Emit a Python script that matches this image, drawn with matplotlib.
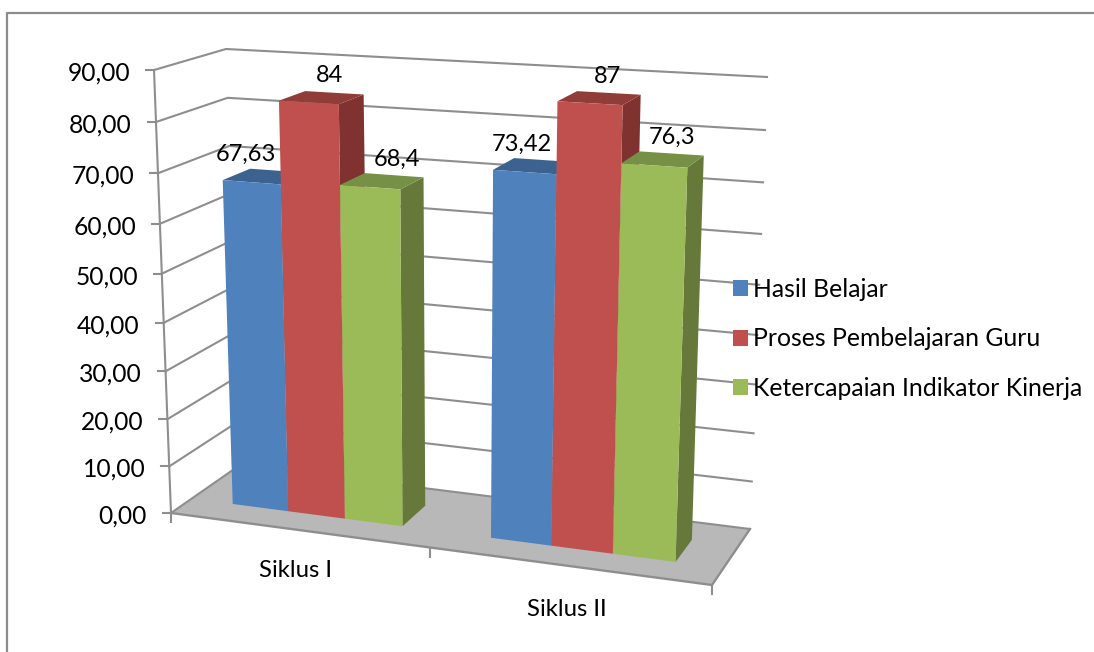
import matplotlib
matplotlib.use("Agg")
import matplotlib.pyplot as plt
import numpy as np
from matplotlib.patches import Polygon, Patch

# ---- data ----
categories = ["Siklus I", "Siklus II"]
series_names = ["Hasil Belajar", "Proses Pembelajaran Guru", "Ketercapaian Indikator Kinerja"]
hasil_belajar = [67.63, 73.42]
proses_guru = [84, 87]
indikator_kinerja = [68.4, 76.3]
value_labels = [["67,63", "73,42"], ["84", "87"], ["68,4", "76,3"]]
y_ticks = [0, 10, 20, 30, 40, 50, 60, 70, 80, 90]

# ---- style ----
FONT = "Lato"
GRID = "#8e8e8e"
FLOOR = "#b8b8b8"
faces = [("#4f81bd", "#3c6390", "#3a5f8b"),
         ("#c0504d", "#903c39", "#7f3230"),
         ("#9bbb59", "#769046", "#66793a")]
label_dx = [[-19, -13], [8, 8], [15, 9]]
label_dy = -22
Y_MAX = 90

# 3-D box corners on the page (pixel layout): (front/back, left/right, bottom/top)
C = {(0, 0, 0): (171, 513), (0, 0, 1): (154, 70),
     (0, 1, 0): (712, 585), (0, 1, 1): (729, 103),
     (1, 0, 0): (240, 465), (1, 0, 1): (226, 49),
     (1, 1, 0): (750, 529), (1, 1, 1): (767, 77)}
C = {k: np.array(v, float) for k, v in C.items()}


def warp(t, a):
    return a * t / (1 + (a - 1) * t)


def project(x, value, depth):
    """x: category coordinate 0..n, value: axis value, depth: 0 front .. 1 back"""
    u = warp(x / len(categories), 0.92)
    v = warp(value / Y_MAX, 0.94)
    w = depth
    p = np.zeros(2)
    for i, wi in ((0, 1 - w), (1, w)):
        for j, uj in ((0, 1 - u), (1, u)):
            for k, vk in ((0, 1 - v), (1, v)):
                p += wi * uj * vk * C[(i, j, k)]
    return p


fig = plt.figure(figsize=(10.94, 6.52), dpi=100)
ax = fig.add_axes([0, 0, 1, 1])
ax.set_xlim(0, 1094)
ax.set_ylim(652, 0)
ax.axis("off")

# outer frame
ax.plot([7, 7, 1094], [652, 13, 13], color="#8c8c8c", lw=1.6, zorder=1)

n = len(categories)
# floor
floor = [project(0, 0, 0), project(n, 0, 0), project(n, 0, 1), project(0, 0, 1)]
ax.add_patch(Polygon(floor, closed=True, facecolor=FLOOR, edgecolor="none", zorder=2))

# walls' gridlines
for t in y_ticks:
    pts = np.array([project(0, t, 0), project(0, t, 1), project(n, t, 1)])
    ax.plot(pts[:, 0], pts[:, 1], color=GRID, lw=1.5, zorder=3, solid_joinstyle="miter")
    a = project(0, t, 0)
    ax.plot([a[0] - 8, a[0]], [a[1], a[1]], color=GRID, lw=1.5, zorder=3)
    ax.text(a[0] - 24, a[1] + 3, f"{t:.2f}".replace(".", ","), ha="right", va="center",
            fontsize=17.7, family=FONT, color="black", zorder=6)

# axis edges
pts = np.array([project(0, 0, 0), project(0, Y_MAX, 0)])
ax.plot(pts[:, 0], pts[:, 1], color=GRID, lw=1.5, zorder=3)
pts = np.array([project(0, 0, 0), project(n, 0, 0), project(n, 0, 1)])
ax.plot(pts[:, 0], pts[:, 1], color=GRID, lw=1.7, zorder=3)
for i in range(n + 1):
    a = project(i, 0, 0)
    ax.plot([a[0], a[0]], [a[1], a[1] + 9], color=GRID, lw=1.5, zorder=3)

# bars
series = [hasil_belajar, proses_guru, indikator_kinerja]
bar_w = 1 / 4.5
d0, d1 = 0.3, 0.7
z = 10
for c in range(n):
    for s, vals in enumerate(series):
        val = vals[c]
        x0 = c + 1 / 6 + s * bar_w
        x1 = x0 + bar_w
        front, top, side = faces[s]
        ax.add_patch(Polygon([project(x1, 0, d0), project(x1, 0, d1), project(x1, val, d1), project(x1, val, d0)],
                             facecolor=side, edgecolor="none", zorder=z))
        ax.add_patch(Polygon([project(x0, val, d0), project(x1, val, d0), project(x1, val, d1), project(x0, val, d1)],
                             facecolor=top, edgecolor="none", zorder=z))
        ax.add_patch(Polygon([project(x0, 0, d0), project(x1, 0, d0), project(x1, val, d0), project(x0, val, d0)],
                             facecolor=front, edgecolor="none", zorder=z))
        z += 1
for c in range(n):
    for s, vals in enumerate(series):
        x = c + 1 / 6 + (s + 0.5) * bar_w
        p = project(x, vals[c], 0.5)
        ax.text(p[0] + label_dx[s][c], p[1] + label_dy, value_labels[s][c], ha="center", va="center",
                fontsize=17, family=FONT, color="black", zorder=40)

# category labels
cat_offsets = [(-2, 41), (-1, 44)]
for i, c in enumerate(categories):
    p = project(i + 0.5, 0, 0)
    ax.text(p[0] + cat_offsets[i][0], p[1] + cat_offsets[i][1], c, ha="center", va="center",
            fontsize=17.2, family=FONT, color="black", zorder=40)

handles = [Patch(facecolor=f[0], edgecolor="none") for f in faces]
leg = ax.legend(handles, series_names, loc="upper left", bbox_to_anchor=(733 / 1094, 1 - 278 / 652),
                frameon=False, prop={"family": FONT, "size": 17.8},
                handlelength=0.6, handleheight=0.6, handletextpad=0.2,
                labelspacing=1.07, borderpad=0, borderaxespad=0)
leg.set_zorder(50)

fig.savefig("out.png", dpi=100)
